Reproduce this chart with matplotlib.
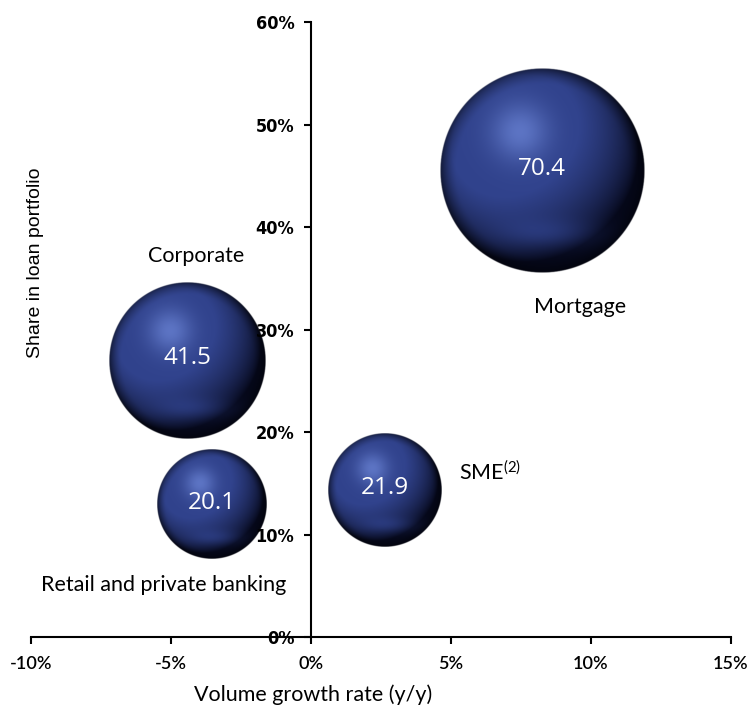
import numpy as np
import matplotlib
matplotlib.use("Agg")
import matplotlib.pyplot as plt
from matplotlib import font_manager
from matplotlib.ticker import FuncFormatter, FixedLocator

plt.rcParams["mathtext.default"] = "regular"

# Loan portfolio segments
segments = ["Mortgage", "Corporate", "Retail and private banking", "SME$^{(2)}$"]
growth = [8.25, -4.43, -3.54, 2.64]          # volume growth rate y/y, %
share = [45.5, 27.0, 12.9, 14.3]             # share in loan portfolio, %
volume = [70.4, 41.5, 20.1, 21.9]            # bubble values

x_ticks = [-10, -5, 0, 5, 10, 15]
y_ticks = [0, 10, 20, 30, 40, 50, 60]

# segment name positions in data units
label_pos = [(9.6, 32.2), (-4.1, 37.2), (-5.25, 5.1), (5.3, 16.1)]
label_ha = ["center", "center", "center", "left"]


def condensed_bold():
    """Bold condensed face if one is installed, else plain bold DejaVu."""
    prop = font_manager.FontProperties(family="DejaVu Sans", weight="bold",
                                       stretch="condensed")
    try:
        path = font_manager.findfont(prop, fallback_to_default=False)
        if "Condensed" in path:
            return prop
    except Exception:
        pass
    return font_manager.FontProperties(family="DejaVu Sans", weight="bold")


fig = plt.figure(figsize=(7.51, 7.10), dpi=100)
ax = fig.add_axes([0.0413, 0.1028, 0.932, 0.866])
ax.set_xlim(-10, 15)
ax.set_ylim(0, 60)


def sphere_image(n=500):
    yy, xx = np.mgrid[1:-1:n * 1j, -1:1:n * 1j]
    rr = np.sqrt(xx ** 2 + yy ** 2)
    z = np.sqrt(np.clip(1 - rr ** 2, 0, 1))
    light = np.array([-0.35, 0.45, 0.82])
    light /= np.linalg.norm(light)
    diff = np.clip(xx * light[0] + yy * light[1] + z * light[2], 0, 1)
    dark = np.array([0.02, 0.03, 0.10])
    mid = np.array([0.19, 0.26, 0.55])
    high = np.array([0.42, 0.52, 0.84])
    t = diff[..., None] ** 0.9
    col = dark + (mid - dark) * np.clip(t * 1.3, 0, 1)
    spot = np.exp(-(((xx + 0.22) ** 2) + ((yy - 0.38) ** 2)) / 0.08)[..., None]
    col = col + (high - mid) * spot * 0.75
    refl = np.exp(-(((xx - 0.1) ** 2) / 0.25 + ((yy + 0.62) ** 2) / 0.02))[..., None]
    col = col + np.array([0.05, 0.07, 0.14]) * refl
    # darken rim
    rim = np.clip((rr - 0.84) / 0.16, 0, 1)[..., None]
    col = col * (1 - 0.45 * rim ** 1.5)
    col = np.clip(col, 0, 1)
    alpha = np.clip((1 - rr) * n / 3.0, 0, 1)
    return np.dstack([col, alpha])


img = sphere_image()
fig.canvas.draw()
p0 = ax.transData.transform((0, 0))
px_per_x = ax.transData.transform((1, 0))[0] - p0[0]
px_per_y = ax.transData.transform((0, 1))[1] - p0[1]
radius_scale = 102.0 / np.sqrt(70.4)  # pixels per sqrt(value)

for gx, sy, v in zip(growth, share, volume):
    r_px = radius_scale * np.sqrt(v)
    rx = r_px / px_per_x
    ry = r_px / px_per_y
    ax.imshow(img, extent=[gx - rx, gx + rx, sy - ry, sy + ry],
              aspect="auto", zorder=1, interpolation="bilinear")
    ax.text(gx, sy + 0.2, f"{v:.1f}", color="white", fontsize=17.5,
            family="Open Sans", ha="center", va="center", zorder=3)

for name, (lx, ly), ha in zip(segments, label_pos, label_ha):
    ax.text(lx, ly, name, fontsize=15.5, family="Lato", ha=ha,
            va="center", color="black", zorder=3)

ax.set_xlim(-10, 15)
ax.set_ylim(0, 60)

ax.spines["top"].set_visible(False)
ax.spines["right"].set_visible(False)
ax.spines["left"].set_position(("data", 0))
for s in ("left", "bottom"):
    ax.spines[s].set_linewidth(1.5)
    ax.spines[s].set_zorder(2)

ax.xaxis.set_major_locator(FixedLocator(x_ticks))
ax.yaxis.set_major_locator(FixedLocator(y_ticks))
pct = FuncFormatter(lambda v, _: f"{v:.0f}%")
ax.xaxis.set_major_formatter(pct)
ax.yaxis.set_major_formatter(pct)
ax.tick_params(axis="x", direction="out", length=5, width=1.5, pad=9,
               labelsize=13)
ax.tick_params(axis="y", direction="out", length=5, width=1.5, pad=7,
               labelsize=13)
ybold = condensed_bold()
for lab in ax.get_xticklabels():
    lab.set_family("Lato")
    lab.set_fontweight("semibold")
for lab in ax.get_yticklabels():
    lab.set_fontproperties(ybold)
    lab.set_fontsize(13)

fig.text(313 / 751, 1 - 695 / 710, "Volume growth rate (y/y)", fontsize=15.5,
         family="Lato", ha="center", va="center")
fig.text(36 / 751, 1 - 263 / 710, "Share in loan portfolio", fontsize=14,
         family="Liberation Sans", rotation=90, ha="center", va="center")

fig.savefig("out.png", dpi=100)
